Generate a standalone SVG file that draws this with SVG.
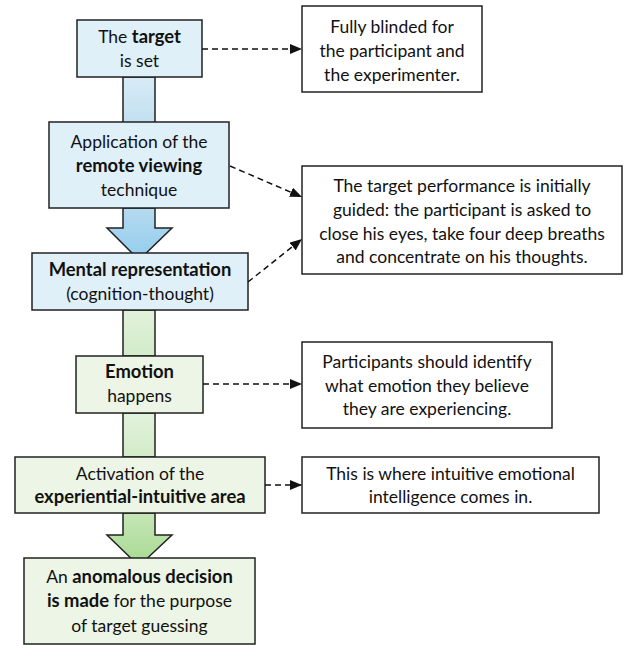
<svg xmlns="http://www.w3.org/2000/svg" width="626" height="645" viewBox="0 0 626 645">
<defs>
<linearGradient id="gBlue1" x1="0" y1="0" x2="0" y2="1"><stop offset="0" stop-color="#d8ebf6"/><stop offset="1" stop-color="#c2e0f1"/></linearGradient>
<linearGradient id="gBlue2" x1="0" y1="0" x2="0" y2="1"><stop offset="0" stop-color="#b5daef"/><stop offset="1" stop-color="#92cdee"/></linearGradient>
<linearGradient id="gGreen1" x1="0" y1="0" x2="0" y2="1"><stop offset="0" stop-color="#e2f2dc"/><stop offset="1" stop-color="#d2ebc8"/></linearGradient>
<linearGradient id="gGreen2" x1="0" y1="0" x2="0" y2="1"><stop offset="0" stop-color="#c6e6b8"/><stop offset="1" stop-color="#a6da90"/></linearGradient>
<marker id="ah" viewBox="0 0 12 10" refX="12" refY="5" markerWidth="12" markerHeight="10" markerUnits="userSpaceOnUse" orient="auto"><path d="M0,0 L12,5 L0,10 Z" fill="#111"/></marker>
<style>
text{font-family:Lato,"Noto Sans","Liberation Sans",sans-serif;font-size:17.5px;fill:#111;text-anchor:middle}
.b{font-weight:bold;font-size:18.4px}
.blue{fill:#e0f0f8;stroke:#222;stroke-width:1.5}
.green{fill:#edf5e6;stroke:#222;stroke-width:1.5}
.note{fill:#fff;stroke:#222;stroke-width:1.5}
.shaft{stroke:#222;stroke-width:1.5}
.dash{fill:none;stroke:#111;stroke-width:1.5;stroke-dasharray:6 4;marker-end:url(#ah)}
</style>
</defs>

<g id="flow-arrows">
<rect class="shaft" x="123" y="77" width="32" height="46" fill="url(#gBlue1)"/>
<path class="shaft" d="M123,208 L123,228 L107,228 L139,260 L172,228 L155,228 L155,208 Z" fill="url(#gBlue2)"/>
<rect class="shaft" x="123" y="310" width="32" height="46" fill="url(#gGreen1)"/>
<rect class="shaft" x="123" y="413" width="32" height="44" fill="url(#gGreen1)"/>
<path class="shaft" d="M123,513 L123,535 L107,535 L139,566 L172,535 L155,535 L155,513 Z" fill="url(#gGreen2)"/>
</g>

<g id="node-target">
<rect class="blue" x="77" y="20" width="125" height="57"/>
<text x="139.5" y="43">The <tspan class="b">target</tspan></text>
<text x="139.5" y="67">is set</text>
</g>

<g id="node-application">
<rect class="blue" x="49" y="122" width="180" height="86"/>
<text x="139" y="148">Application of the</text>
<text x="139" y="172" class="b">remote viewing</text>
<text x="139" y="196">technique</text>
</g>

<g id="node-mental">
<rect class="blue" x="32" y="253" width="216" height="57"/>
<text x="140" y="276" class="b">Mental representation</text>
<text x="140" y="300">(cognition-thought)</text>
</g>

<g id="node-emotion">
<rect class="green" x="76" y="356" width="127" height="57"/>
<text x="139.5" y="378" class="b">Emotion</text>
<text x="139.5" y="402">happens</text>
</g>

<g id="node-activation">
<rect class="green" x="15" y="457" width="250" height="56"/>
<text x="140" y="480">Activation of the</text>
<text x="140" y="503" class="b">experiential-intuitive area</text>
</g>

<g id="node-decision">
<rect class="green" x="24" y="558" width="231" height="86"/>
<text x="139.5" y="583">An <tspan class="b">anomalous decision</tspan></text>
<text x="139.5" y="607"><tspan class="b">is made</tspan> for the purpose</text>
<text x="139.5" y="632">of target guessing</text>
</g>

<g id="note-blinded">
<rect class="note" x="302" y="6" width="180" height="86"/>
<text x="392" y="33">Fully blinded for</text>
<text x="392" y="57">the participant and</text>
<text x="392" y="81">the experimenter.</text>
</g>

<g id="note-guided">
<rect class="note" x="302" y="166" width="320" height="108"/>
<text x="462" y="192">The target performance is initially</text>
<text x="462" y="216">guided: the participant is asked to</text>
<text x="462" y="240">close his eyes, take four deep breaths</text>
<text x="462" y="263">and concentrate on his thoughts.</text>
</g>

<g id="note-emotion">
<rect class="note" x="302" y="342" width="250" height="86"/>
<text x="427" y="368">Participants should identify</text>
<text x="427" y="392">what emotion they believe</text>
<text x="427" y="415">they are experiencing.</text>
</g>

<g id="note-intuitive">
<rect class="note" x="302" y="457" width="297" height="56"/>
<text x="450.5" y="480">This is where intuitive emotional</text>
<text x="450.5" y="503">intelligence comes in.</text>
</g>

<g id="connectors">
<line class="dash" x1="202" y1="49" x2="302" y2="49"/>
<line class="dash" x1="230" y1="166" x2="302" y2="197"/>
<line class="dash" x1="248" y1="282" x2="302" y2="239"/>
<line class="dash" x1="203" y1="384" x2="302" y2="384"/>
<line class="dash" x1="265" y1="485" x2="302" y2="485"/>
</g>
</svg>
